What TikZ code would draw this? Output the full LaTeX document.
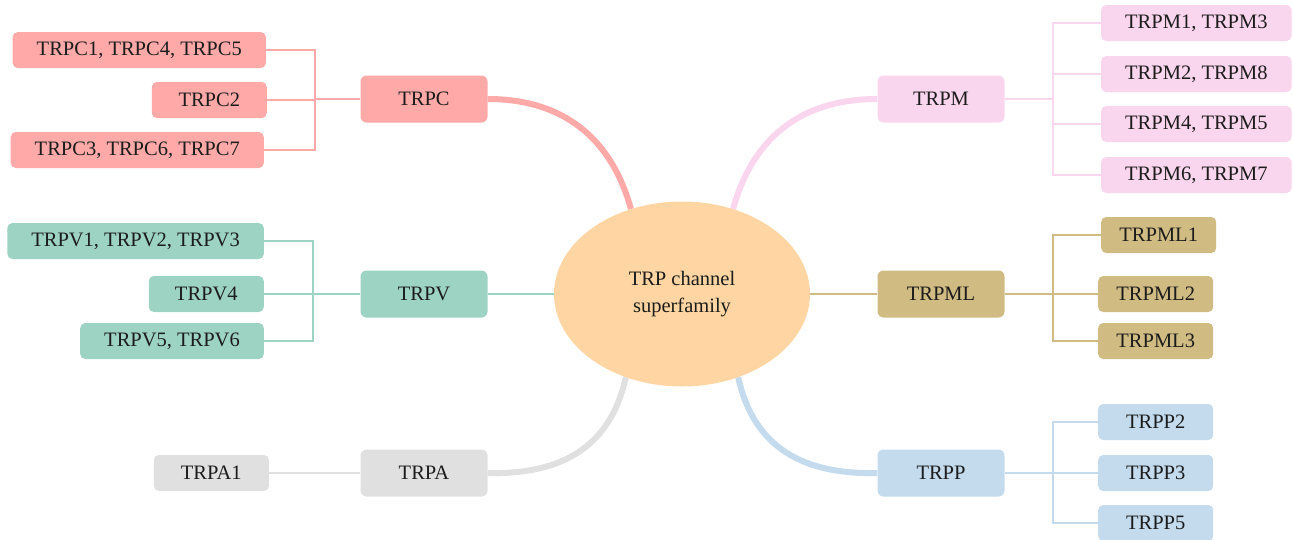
\documentclass[tikz,border=0pt]{standalone}
\usepackage{fontspec}
\setmainfont{Liberation Serif}
\usetikzlibrary{shapes.geometric}
\usetikzlibrary{backgrounds}

\definecolor{hubfill}{HTML}{FFD6A3}
\definecolor{trpcc}{HTML}{FFAAA8}
\definecolor{trpvc}{HTML}{9DD3C2}
\definecolor{trpac}{HTML}{E1E0E1}
\definecolor{trpmc}{HTML}{FAD5EE}
\definecolor{trpmlc}{HTML}{D0BB83}
\definecolor{trppc}{HTML}{C3DBED}
\definecolor{ink}{HTML}{1C1C1C}

\tikzset{
 family/.style={rounded corners=6pt,minimum width=127pt,minimum height=47pt,text=ink},
 member/.style={rounded corners=5pt,minimum width=115pt,minimum height=36pt,inner xsep=24pt,text=ink},
 twig/.style={line width=1.1pt},
 bough/.style={line width=6pt}
}

\begin{document}
\begin{tikzpicture}[x=1pt,y=-1pt,font=\fontsize{20.5}{26.7}\selectfont]
 \useasboundingbox (0,0) rectangle (1293,539);
 \node[ellipse,fill=hubfill,inner sep=0pt,minimum width=256pt,minimum height=185pt,align=center,text=ink] (hub) at (682,294) {TRP channel\\superfamily};

 \node[family,fill=trpcc] (TRPC) at (424,99) {TRPC};
 \node[family,fill=trpvc] (TRPV) at (424,294) {TRPV};
 \node[family,fill=trpac] (TRPA) at (424,473) {TRPA};
 \node[family,fill=trpmc] (TRPM) at (941,99) {TRPM};
 \node[family,fill=trpmlc] (TRPML) at (941,294) {TRPML};
 \node[family,fill=trppc] (TRPP) at (941,473) {TRPP};

 \node[member,fill=trpcc,anchor=east] (trpc145) at (266,50) {TRPC1, TRPC4, TRPC5};
 \node[member,fill=trpcc,anchor=east] (trpc2) at (267,100) {TRPC2};
 \node[member,fill=trpcc,anchor=east] (trpc367) at (264,150) {TRPC3, TRPC6, TRPC7};
 \node[member,fill=trpvc,anchor=east] (trpv123) at (264,241) {TRPV1, TRPV2, TRPV3};
 \node[member,fill=trpvc,anchor=east] (trpv4) at (264,294) {TRPV4};
 \node[member,fill=trpvc,anchor=east] (trpv56) at (264,341) {TRPV5, TRPV6};
 \node[member,fill=trpac,anchor=east] (trpa1) at (269,473) {TRPA1};

 \node[member,fill=trpmc,anchor=west] (trpm13) at (1101,23) {TRPM1, TRPM3};
 \node[member,fill=trpmc,anchor=west] (trpm28) at (1101,74) {TRPM2, TRPM8};
 \node[member,fill=trpmc,anchor=west] (trpm45) at (1101,124) {TRPM4, TRPM5};
 \node[member,fill=trpmc,anchor=west] (trpm67) at (1101,175) {TRPM6, TRPM7};
 \node[member,fill=trpmlc,anchor=west,inner xsep=18pt] (trpml1) at (1101,235) {TRPML1};
 \node[member,fill=trpmlc,anchor=west,inner xsep=18pt] (trpml2) at (1098,294) {TRPML2};
 \node[member,fill=trpmlc,anchor=west,inner xsep=18pt] (trpml3) at (1098,341) {TRPML3};
 \node[member,fill=trppc,anchor=west] (trpp2) at (1098,422) {TRPP2};
 \node[member,fill=trppc,anchor=west] (trpp3) at (1098,473) {TRPP3};
 \node[member,fill=trppc,anchor=west] (trpp5) at (1098,523) {TRPP5};

 \coordinate (jC) at (315,99);
 \coordinate (jV) at (313,294);
 \coordinate (jM) at (1053,99);
 \coordinate (jML) at (1053,294);
 \coordinate (jP) at (1053,473);

 \begin{scope}[on background layer]
 \draw[bough,trpcc] (TRPC.east) .. controls (565,99) and (612,140) .. (hub.121);
 \draw[bough,trpmc] (TRPM.west) .. controls (799,99) and (752,140) .. (hub.59);
 \draw[bough,trpac] (TRPA.east) .. controls (570,475) and (612,440) .. (hub.236);
 \draw[bough,trppc] (TRPP.west) .. controls (794,475) and (752,440) .. (hub.304);

 \draw[twig,trpvc] (hub) -- (TRPV);
 \draw[twig,trpmlc] (hub) -- (TRPML);

 \draw[twig,trpcc] (TRPC.west) -- (jC);
 \foreach \m in {trpc145,trpc2,trpc367} \draw[twig,trpcc] (\m.east) -| (jC);
 \draw[twig,trpvc] (TRPV.west) -- (jV);
 \foreach \m in {trpv123,trpv4,trpv56} \draw[twig,trpvc] (\m.east) -| (jV);
 \draw[twig,trpac] (TRPA) -- (trpa1);

 \draw[twig,trpmc] (TRPM.east) -- (jM);
 \foreach \m in {trpm13,trpm28,trpm45,trpm67} \draw[twig,trpmc] (\m.west) -| (jM);
 \draw[twig,trpmlc] (TRPML.east) -- (jML);
 \foreach \m in {trpml1,trpml2,trpml3} \draw[twig,trpmlc] (\m.west) -| (jML);
 \draw[twig,trppc] (TRPP.east) -- (jP);
 \foreach \m in {trpp2,trpp3,trpp5} \draw[twig,trppc] (\m.west) -| (jP);
 \end{scope}
\end{tikzpicture}
\end{document}
